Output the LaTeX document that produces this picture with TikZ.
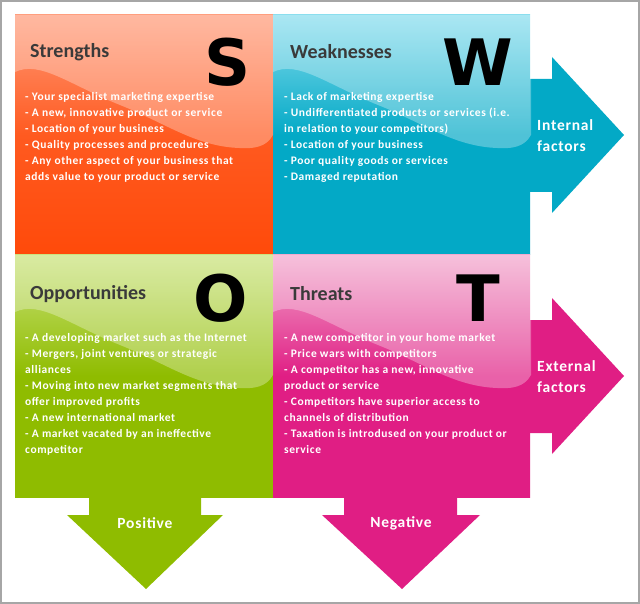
\documentclass[tikz,border=0pt]{standalone}
\usepackage{fontspec}
\setmainfont{Carlito}
\newfontfamily\letterfont{DejaVu Sans}
\newfontfamily\itemfont[LetterSpace=5]{Carlito}
\usetikzlibrary{positioning}

\definecolor{sred}{HTML}{FF4A0A}
\definecolor{slight}{HTML}{FF9A78}
\definecolor{wblue}{HTML}{03A9C6}
\definecolor{wlight}{HTML}{86DDEE}
\definecolor{ogreen}{HTML}{8FBC00}
\definecolor{olight}{HTML}{C9E27A}
\definecolor{tpink}{HTML}{E01E84}
\definecolor{tlight}{HTML}{F2A6CC}
\definecolor{titlegray}{HTML}{3A3A3A}

\begin{document}
\begin{tikzpicture}[
		x=1pt, y=-1pt,
		quad/.style={draw=none},
		wave/.style={fill=white, opacity=0.3},
		heading/.style={anchor=west, text=titlegray, font=\fontsize{20}{21}\selectfont\bfseries, inner sep=0pt},
		letter/.style={font=\fontsize{64}{64}\selectfont\letterfont\bfseries, inner sep=0pt},
		items/.style={anchor=north west, text=white, text width=236pt, align=flush left,
			font=\itemfont\fontsize{11.5}{16}\selectfont\bfseries, inner sep=0pt},
		arrowtext/.style={text=white, font=\itemfont\fontsize{15.5}{21}\selectfont\bfseries, align=left, inner sep=0pt}
	]
  \useasboundingbox (0,0) rectangle (640,604);
  \draw[gray!70, line width=1.2pt] (1,1) rectangle (639,603);
  % arrows
  \fill[wblue] (528,79) -- (552,79) -- (552,57) -- (624,135) -- (552,213) -- (552,192) -- (528,192) -- cycle;
  \fill[tpink] (528,320) -- (552,320) -- (552,298) -- (624,376) -- (552,454) -- (552,433) -- (528,433) -- cycle;
  \fill[ogreen] (89,495) -- (89,515) -- (67,515) -- (146,589) -- (223,515) -- (201,515) -- (201,495) -- cycle;
  \fill[tpink] (344,495) -- (344,515) -- (322,515) -- (402,589) -- (480,515) -- (457,515) -- (457,495) -- cycle;
  % quadrants
  \shade[quad, top color=slight, bottom color=sred, middle color=sred!80!slight] (15,15) rectangle (273,255);
  \shade[quad, top color=wlight, bottom color=wblue, middle color=wblue] (273,15) rectangle (530,255);
  \shade[quad, top color=olight, bottom color=ogreen, middle color=ogreen] (15,255) rectangle (273,497);
  \shade[quad, top color=tlight, bottom color=tpink, middle color=tpink] (273,255) rectangle (530,497);
  % light waves
  \foreach \dx/\dy in {0/0, 258/0, 0/240, 258/240}{
    \fill[wave, shift={(\dx,\dy)}] (15,15) -- (15,72) .. controls (40,60) and (70,85) .. (120,105)
      .. controls (170,125) and (200,150) .. (250,148) .. controls (265,147) and (270,140) .. (273,135) -- (273,15) -- cycle;
  }
  % headings
  \node[heading] (shead) at (30,52) {Strengths};
  \node[heading] (whead) at (290,52) {Weaknesses};
  \node[heading] (ohead) at (30,294) {Opportunities};
  \node[heading] (thead) at (290,294) {Threats};
  \node[letter] (sletter) at (228,62) {S};
  \node[letter] (wletter) at (478,62) {W};
  \node[letter] (oletter) at (221,298) {O};
  \node[letter] (tletter) at (478,298) {T};
  % items
  \node[items] (sitems) at (25,92) {- Your specialist marketing expertise\\- A new, innovative product or  service\\- Location of your business\\- Quality processes and procedures\\- Any other aspect of your business that\\adds value to your product or service};
  \node[items] (witems) at (284,92) {- Lack of marketing expertise\\- Undifferentiated products or services (i.e. in relation to your  competitors)\\- Location of your business\\- Poor quality goods or services\\- Damaged reputation};
  \node[items] (oitems) at (25,333) {- A developing market such as the Internet\\- Mergers, joint ventures or strategic alliances\\- Moving into new market segments that offer improved profits\\- A new international market\\- A market vacated by an ineffective competitor};
  \node[items] (titems) at (284,333) {- A new competitor in your home market\\- Price wars with competitors\\- A competitor has a new, innovative\\product or service\\- Competitors have superior access to channels of distribution\\- Taxation is introdused on your product or service};
  % arrow labels
  \node[arrowtext, anchor=west] (internal) at (537,136) {Internal\\factors};
  \node[arrowtext, anchor=west] (external) at (537,377) {External\\factors};
  \node[arrowtext] (positive) at (145,523) {Positive};
  \node[arrowtext] (negative) at (401,523) {Negative};
\end{tikzpicture}
\end{document}
